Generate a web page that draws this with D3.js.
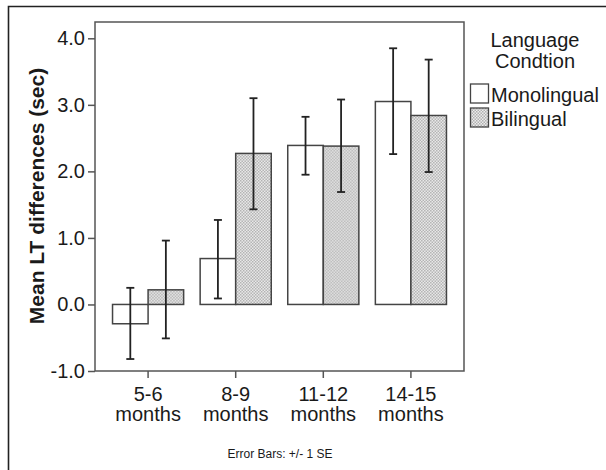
<!DOCTYPE html>
<html>
<head>
<meta charset="utf-8">
<script src="https://cdn.jsdelivr.net/npm/d3@7"></script>
<style>
  body { margin: 0; background: #fff; }
  svg text { font-family: "Liberation Sans", Arial, sans-serif; fill: #1a1a1a; }
</style>
</head>
<body>
<div id="chart"></div>
<script>
const width = 606, height = 470;

const ages = ["5-6", "8-9", "11-12", "14-15"];
const conditions = ["Monolingual", "Bilingual"];
const monoMean = [-0.29, 0.69, 2.39, 3.05];
const monoLow  = [-0.82, 0.09, 1.95, 2.26];
const monoHigh = [0.25, 1.27, 2.82, 3.85];
const biMean   = [0.22, 2.27, 2.38, 2.84];
const biLow    = [-0.51, 1.43, 1.69, 1.99];
const biHigh   = [0.96, 3.10, 3.08, 3.68];
const yTicks = [-1, 0, 1, 2, 3, 4];

const plot = {left: 95, right: 464, top: 22, bottom: 371};

// build rows from the arrays
const rows = [];
ages.forEach((a, i) => {
  rows.push({age: a, cond: "Monolingual", mean: monoMean[i], lo: monoLow[i], hi: monoHigh[i]});
  rows.push({age: a, cond: "Bilingual", mean: biMean[i], lo: biLow[i], hi: biHigh[i]});
});

const svg = d3.select("#chart").append("svg")
  .attr("width", width)
  .attr("height", height);

// dotted fill for the bilingual bars
const defs = svg.append("defs");
const pat = defs.append("pattern")
  .attr("id", "dots")
  .attr("patternUnits", "userSpaceOnUse")
  .attr("width", 3).attr("height", 3);
pat.append("rect").attr("width", 3).attr("height", 3).attr("fill", "#ececec");
pat.append("rect").attr("width", 1.5).attr("height", 1.5).attr("fill", "#b0b0b0");
pat.append("rect").attr("x", 1.5).attr("y", 1.5).attr("width", 1.5).attr("height", 1.5).attr("fill", "#b0b0b0");

const fillFor = c => c === "Bilingual" ? "url(#dots)" : "#fff";

// outer frame (left and top edges only visible)
svg.append("path")
  .attr("d", "M8.5," + height + "V6.5H" + width)
  .attr("fill", "none")
  .attr("stroke", "#222")
  .attr("stroke-width", 1.6);

const x0 = d3.scaleBand()
  .domain(ages)
  .range([plot.left, plot.right])
  .paddingInner(0)
  .paddingOuter(0.106);

const x1 = d3.scaleBand()
  .domain(conditions)
  .range([0, x0.bandwidth()])
  .paddingInner(0)
  .paddingOuter(0.232);

const y = d3.scaleLinear()
  .domain([-1, 4.245])
  .range([plot.bottom, plot.top]);

// plot frame
svg.append("rect")
  .attr("x", plot.left).attr("y", plot.top)
  .attr("width", plot.right - plot.left)
  .attr("height", plot.bottom - plot.top)
  .attr("fill", "none")
  .attr("stroke", "#555")
  .attr("stroke-width", 1.5);

// y axis (plain hyphen for negatives, as in the original)
const yAxis = svg.append("g")
  .attr("transform", "translate(" + plot.left + ",0)")
  .call(d3.axisLeft(y).tickValues(yTicks).tickFormat(d => d.toFixed(1)).tickSize(7).tickPadding(3));
yAxis.select(".domain").remove();
yAxis.selectAll(".tick line").attr("stroke", "#555").attr("stroke-width", 1.5);
yAxis.selectAll(".tick text")
  .style("font-family", "'Liberation Sans', Arial, sans-serif")
  .attr("font-size", 20)
  .attr("fill", "#1a1a1a");

// x axis ticks and two-line labels
const xg = svg.append("g")
  .attr("transform", "translate(0," + plot.bottom + ")");
const xt = xg.selectAll("g.xtick")
  .data(ages)
  .enter().append("g")
  .attr("class", "xtick")
  .attr("transform", d => "translate(" + (x0(d) + x0.bandwidth() / 2) + ",0)");
xt.append("line").attr("y2", 7).attr("stroke", "#555").attr("stroke-width", 1.5);
const xl = xt.append("text").attr("text-anchor", "middle").attr("font-size", 20);
xl.append("tspan").attr("x", 0).attr("y", 30).text(d => d);
xl.append("tspan").attr("x", 0).attr("y", 50).text("months");

// bars
const groups = svg.selectAll("g.age")
  .data(ages)
  .enter().append("g")
  .attr("class", "age")
  .attr("transform", d => "translate(" + x0(d) + ",0)");

groups.selectAll("rect.bar")
  .data(a => rows.filter(r => r.age === a))
  .enter().append("rect")
  .attr("class", "bar")
  .attr("x", d => x1(d.cond))
  .attr("y", d => y(Math.max(0, d.mean)))
  .attr("width", x1.bandwidth())
  .attr("height", d => Math.abs(y(d.mean) - y(0)))
  .attr("fill", d => fillFor(d.cond))
  .attr("stroke", "#444")
  .attr("stroke-width", 1.5);

// error bars
const cap = 4;
const err = groups.selectAll("g.err")
  .data(a => rows.filter(r => r.age === a))
  .enter().append("g")
  .attr("class", "err")
  .attr("transform", d => "translate(" + (x1(d.cond) + x1.bandwidth() / 2) + ",0)")
  .attr("stroke", "#222")
  .attr("stroke-width", 1.8);
err.append("line").attr("y1", d => y(d.lo)).attr("y2", d => y(d.hi));
err.append("line").attr("x1", -cap).attr("x2", cap).attr("y1", d => y(d.hi)).attr("y2", d => y(d.hi));
err.append("line").attr("x1", -cap).attr("x2", cap).attr("y1", d => y(d.lo)).attr("y2", d => y(d.lo));

// y title
svg.append("text")
  .attr("transform", "translate(44,196) rotate(-90)")
  .attr("text-anchor", "middle")
  .attr("font-size", 21)
  .attr("font-weight", "bold")
  .text("Mean LT differences (sec)");

// legend
const legend = svg.append("g").attr("transform", "translate(470,0)");
const lt = legend.append("text").attr("text-anchor", "middle").attr("font-size", 20);
lt.append("tspan").attr("x", 65).attr("y", 47).text("Language");
lt.append("tspan").attr("x", 65).attr("y", 68).text("Condtion");

const li = legend.selectAll("g.item")
  .data(conditions)
  .enter().append("g")
  .attr("class", "item")
  .attr("transform", (d, i) => "translate(0," + (84 + i * 24) + ")");
li.append("rect")
  .attr("x", 0.5).attr("y", 0)
  .attr("width", 18).attr("height", 19)
  .attr("fill", d => fillFor(d))
  .attr("stroke", "#444")
  .attr("stroke-width", 1.3);
li.append("text")
  .attr("x", 21).attr("y", 18)
  .attr("font-size", 20)
  .text(d => d);

// footnote
svg.append("text")
  .attr("x", 280).attr("y", 458)
  .attr("text-anchor", "middle")
  .attr("font-size", 12)
  .text("Error Bars: +/- 1 SE");
</script>
</body>
</html>
